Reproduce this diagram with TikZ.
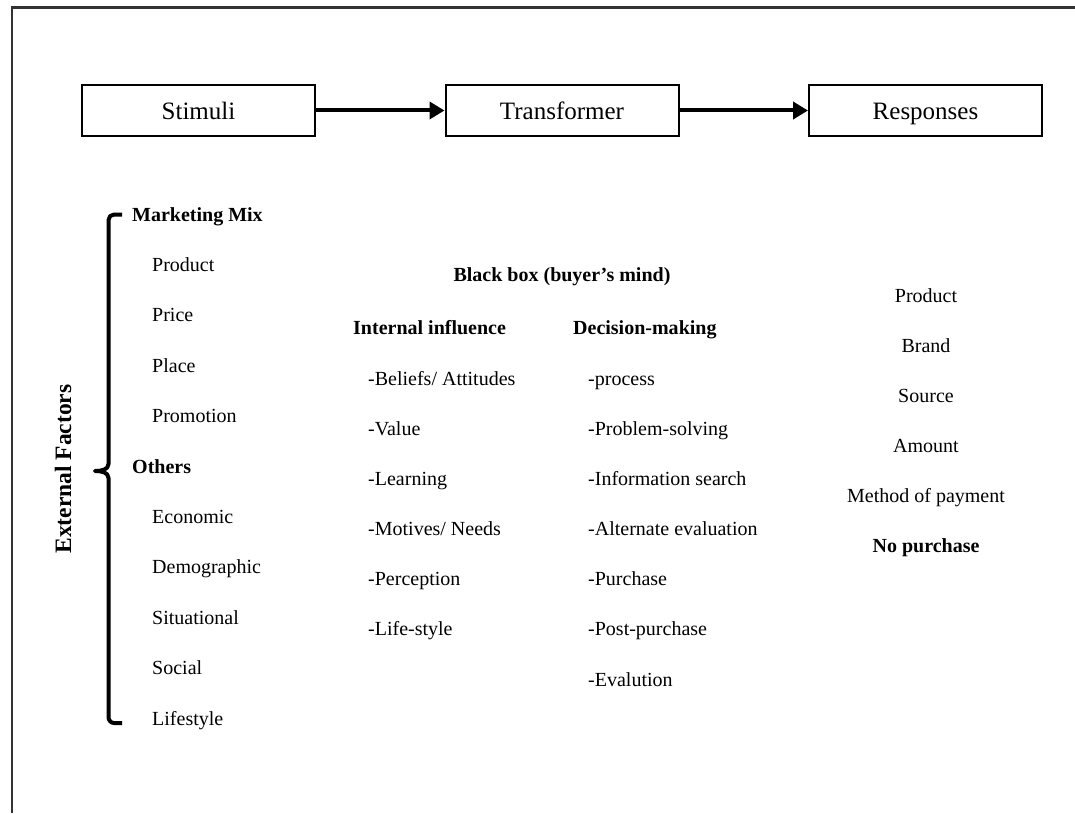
\documentclass[tikz,border=0pt]{standalone}
\usepackage{fontspec}
\setmainfont{Liberation Serif}
\usetikzlibrary{arrows.meta}
\begin{document}
\begin{tikzpicture}[x=1pt,y=-1pt,
  stagebox/.style={draw, line width=2pt, minimum width=233pt, minimum height=51pt,
    inner sep=0pt, text height=18pt, text depth=0pt, font=\fontsize{25}{30}\selectfont},
  item/.style={anchor=base west, inner sep=0pt, font=\fontsize{20}{24}\selectfont},
  head/.style={item, font=\fontsize{20}{24}\selectfont\bfseries},
  citem/.style={anchor=base, inner sep=0pt, font=\fontsize{20}{24}\selectfont},
  flow/.style={line width=4pt, -{Triangle[length=15pt,width=17pt]}}
]
\useasboundingbox (0,0) rectangle (1075,813);

% page frame
\draw[line width=2.5pt, black!80] (12,813) -- (12,7.5) -- (1075,7.5);

% three stages
\node[stagebox] (stim)  at (198.5,110.5) {Stimuli};
\node[stagebox] (trans) at (562,110.5)   {Transformer};
\node[stagebox] (resp)  at (925.5,110.5) {Responses};
\draw[flow] (stim.east) -- (trans.west);
\draw[flow] (trans.east) -- (resp.west);

% external factors and brace
\node[rotate=90, inner sep=0pt, text height=16pt, text depth=0pt,
      font=\fontsize{23.5}{28}\selectfont\bfseries] (ext) at (63,469) {External Factors};
\draw[line width=4pt, line join=round]
  (122,214.5) -- (114,214.5) to[out=180,in=90] (108.5,220) -- (108.5,464)
  to[out=-90,in=0] (95,471) to[out=0,in=90] (108.5,478) -- (108.5,717)
  to[out=-90,in=180] (114,723) -- (122,723);

\node[head] (mm)   at (132,221)   {Marketing Mix};
\node[item] (prod) at (152,271.4) {Product};
\node[item] (pric) at (152,321.8) {Price};
\node[item] (plac) at (152,372.2) {Place};
\node[item] (prom) at (152,422.6) {Promotion};
\node[head] (oth)  at (132,473)   {Others};
\node[item] (econ) at (152,523.4) {Economic};
\node[item] (demo) at (152,573.8) {Demographic};
\node[item] (situ) at (152,624.2) {Situational};
\node[item] (soc)  at (152,674.6) {Social};
\node[item] (life) at (152,725)   {Lifestyle};

% black box
\node[citem, font=\fontsize{20}{24}\selectfont\bfseries] (bb) at (562,281) {Black box (buyer’s mind)};
\node[head] (intl) at (353,334) {Internal influence};
\node[head] (dec)  at (573,334) {Decision-making};

\node[item] (i1) at (368,385) {-Beliefs/ Attitudes};
\node[item] (i2) at (368,435) {-Value};
\node[item] (i3) at (368,485) {-Learning};
\node[item] (i4) at (368,535) {-Motives/ Needs};
\node[item] (i5) at (368,585) {-Perception};
\node[item] (i6) at (368,635) {-Life-style};

\node[item] (d1) at (588,385) {-process};
\node[item] (d2) at (588,435) {-Problem-solving};
\node[item] (d3) at (588,485) {-Information search};
\node[item] (d4) at (588,535) {-Alternate evaluation};
\node[item] (d5) at (588,585) {-Purchase};
\node[item] (d6) at (588,635) {-Post-purchase};
\node[item] (d7) at (588,686) {-Evalution};

% responses
\node[citem] (r1) at (926,302) {Product};
\node[citem] (r2) at (926,352) {Brand};
\node[citem] (r3) at (926,402) {Source};
\node[citem] (r4) at (926,452) {Amount};
\node[citem] (r5) at (926,502) {Method of payment};
\node[citem, font=\fontsize{20}{24}\selectfont\bfseries] (r6) at (926,552) {No purchase};
\end{tikzpicture}
\end{document}
